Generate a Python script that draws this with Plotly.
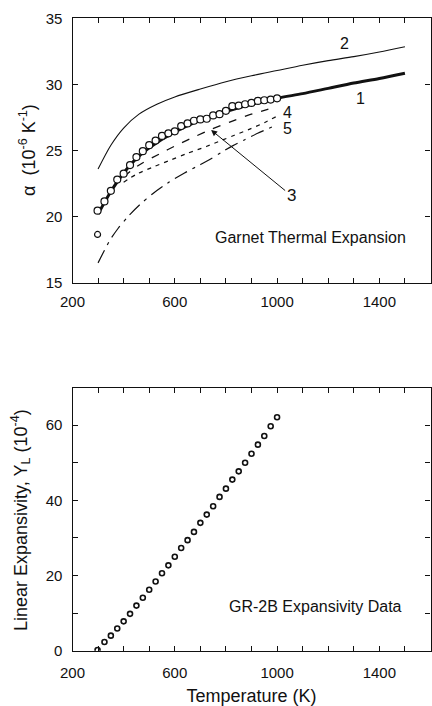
import plotly.graph_objects as go
from plotly.subplots import make_subplots

# ---------------- data ----------------
# Curve 1 (thick solid)
c1_T = [300, 350, 400, 450, 500, 600, 700, 800, 900, 1000, 1100, 1200, 1300, 1400, 1500]
c1_a = [20.2, 21.9, 23.3, 24.4, 25.2, 26.4, 27.3, 27.95, 28.5, 28.95, 29.3, 29.7, 30.1, 30.45, 30.85]
# Curve 2 (thin solid)
c2_T = [300, 350, 400, 460, 530, 600, 700, 800, 900, 1000, 1100, 1200, 1300, 1400, 1500]
c2_a = [23.6, 25.4, 26.7, 27.75, 28.5, 29.05, 29.65, 30.2, 30.65, 31.05, 31.45, 31.8, 32.1, 32.45, 32.85]
# Curve 3 (long dash)
c3_T = [400, 456, 541, 612, 684, 742, 815, 885, 960, 1000]
c3_a = [23.0, 23.85, 24.75, 25.45, 26.1, 26.6, 27.15, 27.65, 28.1, 28.35]
# Curve 4 (short dash)
c4_T = [400, 450, 515, 580, 645, 723, 787, 833, 891, 950, 1000]
c4_a = [22.6, 23.2, 23.75, 24.25, 24.75, 25.3, 25.8, 26.15, 26.6, 27.1, 27.6]
# Curve 5 (dash-dot)
c5_T = [300, 346, 378, 417, 463, 515, 573, 638, 697, 735, 781, 826, 872, 924, 1000]
c5_a = [16.5, 18.2, 19.1, 20.0, 20.9, 21.75, 22.55, 23.3, 23.9, 24.3, 24.85, 25.35, 25.8, 26.3, 26.95]

# Measured points (circles), shared temperatures
pts_T = [298, 325, 350, 375, 400, 425, 450, 475, 500, 525, 550, 575, 600, 625, 650,
         675, 700, 725, 750, 775, 800, 825, 850, 875, 900, 925, 950, 975, 1000]
pts_alpha = [20.45, 21.15, 21.95, 22.8, 23.25, 23.9, 24.5, 24.95, 25.4, 25.75, 26.1, 26.3,
             26.45, 26.85, 27.05, 27.25, 27.35, 27.4, 27.65, 27.75, 28.0, 28.35, 28.4,
             28.5, 28.6, 28.75, 28.8, 28.85, 28.95]
outlier_T = [298]
outlier_alpha = [18.65]

pts_YL = [0.2, 2.3, 4.0, 5.9, 7.8, 9.8, 12.0, 14.1, 16.2, 18.4, 20.6, 22.7, 25.0, 27.3,
          29.4, 31.6, 34.0, 36.2, 38.4, 40.9, 43.1, 45.5, 47.7, 50.0, 52.4, 54.8, 57.1,
          59.7, 62.1]

# curve labels: (text, T, alpha)
curve_labels = [("2", 1262, 33.1), ("1", 1325, 28.9), ("4", 1040, 27.85), ("5", 1040, 26.7)]
arrow3 = ("3", 1055, 21.6, 742, 26.55)  # text, text T, text alpha, tip T, tip alpha

x_tickvals = [200, 600, 1000, 1400]
# --------------------------------------

FONT = "Liberation Sans, Arial, sans-serif"
INK = "#111111"

fig = make_subplots(rows=2, cols=1)

fig.add_trace(go.Scatter(x=c2_T, y=c2_a, mode="lines", line=dict(color=INK, width=1.1, shape="spline", smoothing=0.8)), 1, 1)
fig.add_trace(go.Scatter(x=c3_T, y=c3_a, mode="lines", line=dict(color=INK, width=1.3, dash="8px,9px", shape="spline", smoothing=0.8)), 1, 1)
fig.add_trace(go.Scatter(x=c4_T, y=c4_a, mode="lines", line=dict(color=INK, width=1.2, dash="4px,5px", shape="spline", smoothing=0.8)), 1, 1)
fig.add_trace(go.Scatter(x=c5_T, y=c5_a, mode="lines", line=dict(color=INK, width=1.2, dash="14px,6px,3px,6px", shape="spline", smoothing=0.8)), 1, 1)
fig.add_trace(go.Scatter(x=c1_T, y=c1_a, mode="lines", line=dict(color=INK, width=3, shape="spline", smoothing=0.8)), 1, 1)
fig.add_trace(go.Scatter(x=pts_T, y=pts_alpha, mode="markers",
                         marker=dict(symbol="circle", size=7, color="white", line=dict(color=INK, width=1.2))), 1, 1)
fig.add_trace(go.Scatter(x=outlier_T, y=outlier_alpha, mode="markers",
                         marker=dict(symbol="circle", size=6, color="white", line=dict(color=INK, width=1.2))), 1, 1)

fig.add_trace(go.Scatter(x=pts_T, y=pts_YL, mode="markers",
                         marker=dict(symbol="circle", size=5, color="white", line=dict(color=INK, width=1.6))), 2, 1)

axis_common = dict(showline=True, linecolor=INK, linewidth=1.2, mirror="ticks",
                   ticks="inside", ticklen=5, tickwidth=1, tickcolor=INK,
                   showgrid=False, zeroline=False, automargin=False,
                   tickfont=dict(family=FONT, size=15, color=INK))

xa = dict(axis_common, range=[200, 1600], tickvals=x_tickvals,
          minor=dict(dtick=100, tick0=200, ticks="inside", ticklen=5, tickcolor=INK, showgrid=False),
          domain=[72.5 / 432, 430.5 / 432])
fig.update_layout(
    xaxis=dict(xa, ticklabelstandoff=5),
    xaxis2=dict(xa, ticklabelstandoff=8,
                title=dict(text="Temperature (K)", font=dict(family=FONT, size=18, color=INK), standoff=9)),
    yaxis=dict(axis_common, range=[15, 35], dtick=5, tick0=15,
               domain=[(706 - 282.7) / 706, (706 - 18.3) / 706], ticklabelstandoff=6),
    yaxis2=dict(axis_common, range=[0, 70], dtick=20, tick0=0,
                minor=dict(dtick=10, tick0=0, ticks="inside", ticklen=5, tickcolor=INK, showgrid=False),
                domain=[(706 - 650.7) / 706, (706 - 387.5) / 706], ticklabelstandoff=6),
    width=432, height=706, margin=dict(l=0, r=0, t=0, b=0, autoexpand=False),
    paper_bgcolor="white", plot_bgcolor="white", showlegend=False,
)

ann = []
for txt, tx, ty in curve_labels:
    ann.append(dict(x=tx, y=ty, xref="x", yref="y", text=txt, showarrow=False,
                    xanchor="center", yanchor="middle",
                    font=dict(family=FONT, size=16, color=INK)))
t3, tx3, ty3, hx3, hy3 = arrow3
ann.append(dict(x=hx3, y=hy3, xref="x", yref="y", ax=tx3, ay=ty3, axref="x", ayref="y",
                text=t3, showarrow=True, arrowhead=2, arrowsize=1.2, arrowwidth=1, arrowcolor=INK,
                font=dict(family=FONT, size=17, color=INK)))
ann.append(dict(x=310 / 432, y=(706 - 238) / 706, xref="paper", yref="paper",
                xanchor="center", yanchor="middle",
                text="Garnet Thermal Expansion", showarrow=False,
                font=dict(family=FONT, size=16, color=INK)))
ann.append(dict(x=315 / 432, y=(706 - 606.7) / 706, xref="paper", yref="paper",
                xanchor="center", yanchor="middle",
                text="GR-2B Expansivity Data", showarrow=False,
                font=dict(family=FONT, size=16, color=INK)))
ann.append(dict(x=28 / 432, y=(706 - 150) / 706, xref="paper", yref="paper",
                xanchor="center", yanchor="middle",
                text="α  (10<sup>-6</sup> K<sup>-1</sup>)", textangle=-90, showarrow=False,
                font=dict(family=FONT, size=18, color=INK)))
ann.append(dict(x=20 / 432, y=(706 - 520) / 706, xref="paper", yref="paper",
                xanchor="center", yanchor="middle",
                text="Linear Expansivity, Y<sub>L</sub> (10<sup>-4</sup>)", textangle=-90, showarrow=False,
                font=dict(family=FONT, size=18, color=INK)))
fig.update_layout(annotations=ann)

fig.write_html("out.html", config={"displayModeBar": False},
               post_script="document.body.style.margin='0';document.body.style.overflow='hidden';")
